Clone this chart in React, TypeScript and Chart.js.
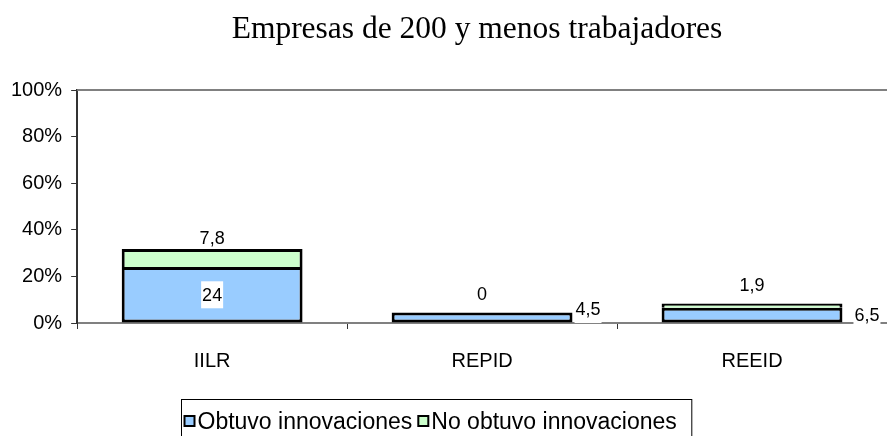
import React, { useEffect, useRef } from "react";
import { Chart, registerables } from "chart.js";

Chart.register(...registerables);

const TITLE = "Empresas de 200 y menos trabajadores";
const categories = ["IILR", "REPID", "REEID"];
const obtuvo = [24, 4.5, 6.5];
const noObtuvo = [7.8, 0, 1.9];
const seriesNames = ["Obtuvo innovaciones", "No obtuvo innovaciones"];
const seriesColors = ["#99CCFF", "#CCFFCC"];
const yTickValues = [0, 20, 40, 60, 80, 100];

const SANS = '"Liberation Sans", Arial, sans-serif';
const SERIF = '"Liberation Serif", "Times New Roman", serif';

// label placement (style): per dataset, per category
const PLACE = [
  [
    { mode: "center", dx: 0, dy: 0 },
    { mode: "right", dx: 3, dy: -3 },
    { mode: "right", dx: 12, dy: 7 },
  ],
  [
    { mode: "top", dx: 0, dy: -11 },
    { mode: "top", dx: 0, dy: -18 },
    { mode: "top", dx: 0, dy: -18 },
  ],
];

const fmt = (v: number) => String(v).replace(".", ",");

const titlePlugin = {
  id: "customTitle",
  afterDraw(chart: any) {
    const ctx = chart.ctx;
    ctx.save();
    ctx.font = `31.5px ${SERIF}`;
    ctx.fillStyle = "#000";
    ctx.textAlign = "center";
    ctx.textBaseline = "alphabetic";
    ctx.fillText(TITLE, 477, 38);
    ctx.restore();
  },
};

const labelsPlugin = {
  id: "valueLabels",
  afterDatasetsDraw(chart: any) {
    const ctx = chart.ctx;
    ctx.save();
    ctx.font = `18px ${SANS}`;
    chart.data.datasets.forEach((ds: any, di: number) => {
      const meta = chart.getDatasetMeta(di);
      meta.data.forEach((bar: any, i: number) => {
        const { x, y, base, width } = bar.getProps(["x", "y", "base", "width"], true);
        const text = fmt(ds.data[i]);
        const tw = ctx.measureText(text).width;
        const p = PLACE[di][i];
        let cx = x;
        let cy = y;
        if (p.mode === "center") {
          cx = x;
          cy = (y + base) / 2;
        } else if (p.mode === "right") {
          cx = x + width / 2 + p.dx + tw / 2;
          cy = y + p.dy;
        } else {
          cx = x + p.dx;
          cy = y + p.dy;
        }
        let top = cy - 13.5;
        let bottom = cy + 13.5;
        if (p.mode === "top") bottom = Math.min(bottom, y - 1.5);
        ctx.fillStyle = "#ffffff";
        ctx.fillRect(cx - tw / 2 - 1, top, tw + 2, bottom - top);
        ctx.fillStyle = "#000000";
        ctx.textAlign = "center";
        ctx.textBaseline = "middle";
        ctx.fillText(text, cx, cy + 1);
      });
    });
    ctx.restore();
  },
};

const framePlugin = {
  id: "frame",
  beforeDatasetsDraw(chart: any) {
    const { ctx, chartArea } = chart;
    ctx.save();
    ctx.strokeStyle = "#808080";
    ctx.lineWidth = 2;
    ctx.beginPath();
    ctx.moveTo(chartArea.left, chartArea.top);
    ctx.lineTo(chartArea.right, chartArea.top);
    ctx.stroke();
    ctx.restore();
  },
};

const legendPlugin = {
  id: "boxLegend",
  afterDraw(chart: any) {
    const ctx = chart.ctx;
    ctx.save();
    ctx.font = `23px ${SANS}`;
    const marker = 10;
    const gapAfterMarker = 3;
    const gapBetween = 6;
    const boxLeft = 181.5;
    const boxTop = 399.5;
    let x = boxLeft + 3;
    const cy = 422;
    seriesNames.forEach((name, i) => {
      ctx.fillStyle = seriesColors[i];
      ctx.fillRect(x, cy - 6, marker, marker);
      ctx.strokeStyle = "#000";
      ctx.lineWidth = 2;
      ctx.strokeRect(x, cy - 6, marker, marker);
      x += marker + gapAfterMarker;
      ctx.fillStyle = "#000";
      ctx.textAlign = "left";
      ctx.textBaseline = "middle";
      ctx.fillText(name, x, cy + 1);
      x += ctx.measureText(name).width + gapBetween;
    });
    const boxRight = x - gapBetween + 15;
    ctx.strokeStyle = "#000";
    ctx.lineWidth = 1;
    ctx.strokeRect(boxLeft, boxTop, boxRight - boxLeft, 60);
    ctx.restore();
  },
};

export default function App() {
  const canvasRef = useRef<HTMLCanvasElement | null>(null);

  useEffect(() => {
    document.body.style.margin = "0";
    const canvas = canvasRef.current;
    if (!canvas) return;
    const chart = new Chart(canvas, {
      type: "bar",
      data: {
        labels: categories,
        datasets: [
          {
            label: seriesNames[0],
            data: obtuvo,
            backgroundColor: seriesColors[0],
            borderColor: "#000000",
            borderWidth: 3,
            borderSkipped: false,
          },
          {
            label: seriesNames[1],
            data: noObtuvo,
            backgroundColor: seriesColors[1],
            borderColor: "#000000",
            borderWidth: 3,
            borderSkipped: "start",
          },
        ],
      },
      options: {
        responsive: false,
        animation: false,
        devicePixelRatio: 1,
        layout: { padding: { left: 2, right: 0, top: 90, bottom: 43 } },
        datasets: {
          bar: { categoryPercentage: 0.67, barPercentage: 1 },
        },
        plugins: {
          legend: { display: false },
          tooltip: { enabled: false },
          title: { display: false },
        },
        scales: {
          x: {
            stacked: true,
            grid: {
              display: true,
              drawOnChartArea: false,
              drawTicks: true,
              tickLength: 6,
              color: "#333",
              offset: true,
            },
            border: { display: true, color: "#808080", width: 2 },
            ticks: {
              color: "#000",
              font: { family: SANS, size: 20 },
              padding: 20,
            },
          },
          y: {
            stacked: true,
            min: 0,
            max: 100,
            afterBuildTicks(scale: any) {
              scale.ticks = yTickValues.map((v) => ({ value: v }));
            },
            grid: {
              display: true,
              drawOnChartArea: false,
              drawTicks: true,
              tickLength: 6,
              color: "#333",
            },
            border: { display: true, color: "#333", width: 2 },
            ticks: {
              color: "#000",
              font: { family: SANS, size: 20 },
              padding: 9,
              callback: (v: any) => `${v}%`,
            },
          },
        },
      },
      plugins: [framePlugin, labelsPlugin, titlePlugin, legendPlugin],
    });
    return () => chart.destroy();
  }, []);

  return (
    <div style={{ position: "fixed", left: 0, top: 0, width: 887, height: 436, background: "#fff" }}>
      <canvas ref={canvasRef} width={887} height={436} style={{ width: 887, height: 436 }} />
    </div>
  );
}
